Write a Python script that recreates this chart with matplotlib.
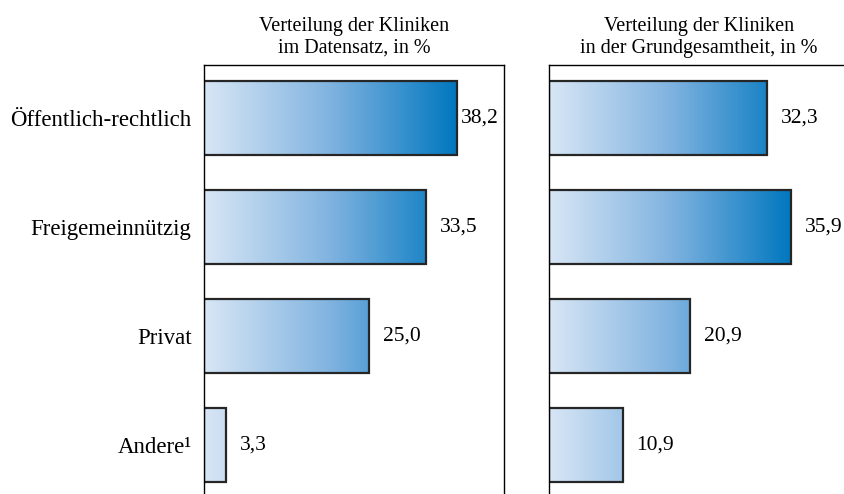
import numpy as np
import matplotlib
matplotlib.use("Agg")
from matplotlib import pyplot as plt
from matplotlib.colors import LinearSegmentedColormap

# Daten
kategorien = ["Öffentlich-rechtlich", "Freigemeinnützig", "Privat", "Andere¹"]
datensatz = [38.2, 33.5, 25.0, 3.3]
grundgesamtheit = [32.3, 35.9, 20.9, 10.9]
titel = ["Verteilung der Kliniken\nim Datensatz, in %",
         "Verteilung der Kliniken\nin der Grundgesamtheit, in %"]

plt.rcParams['font.family'] = ['Liberation Serif', 'DejaVu Serif']
verlauf = LinearSegmentedColormap.from_list("verlauf", ["#d8e6f5", "#80b3e0", "#0077bf"])

fig = plt.figure(figsize=(8.45, 4.94), dpi=100)
ax1 = fig.add_axes([204/845, 0, 300/845, 429/494])
ax2 = fig.add_axes([549/845, 0, 300/845, 429/494])

def zeichne(ax, werte, xmax, t):
    y = np.arange(len(werte))
    h = 0.68
    vmax = max(werte)
    for yi, v in zip(y, werte):
        grad = verlauf(np.linspace(0, v / vmax, 256))[None, :, :]
        ax.imshow(grad, extent=[0, v, yi + h/2, yi - h/2], aspect='auto', zorder=1)
    ax.barh(y, werte, height=h, fill=False, edgecolor="#262626", linewidth=1.6, zorder=2)
    for yi, v in zip(y, werte):
        # knapp am Rand: Beschriftung naeher an den Balken
        off = 3 if v / xmax > 0.82 else 10
        ax.annotate(f"{v:.1f}".replace(".", ","), (v, yi), xytext=(off, 0),
                    textcoords="offset points", va="center", ha="left", fontsize=15.5)
    ax.set_xlim(0, xmax)
    ax.set_ylim(3.45, -0.486)
    ax.spines['bottom'].set_visible(False)
    for s in ['left', 'top', 'right']:
        ax.spines[s].set_linewidth(1.0)
    ax.set_xticks([])
    ax.set_title(t, fontsize=14.5, pad=9, linespacing=1.2)

zeichne(ax1, datensatz, 300/6.62, titel[0])
zeichne(ax2, grundgesamtheit, 300/6.75, titel[1])

ax1.set_yticks(range(len(kategorien)))
ax1.set_yticklabels(kategorien, fontsize=16.5)
ax1.tick_params(axis='y', length=0, pad=9)
ax2.set_yticks([])

plt.savefig('out.png', dpi=100)
